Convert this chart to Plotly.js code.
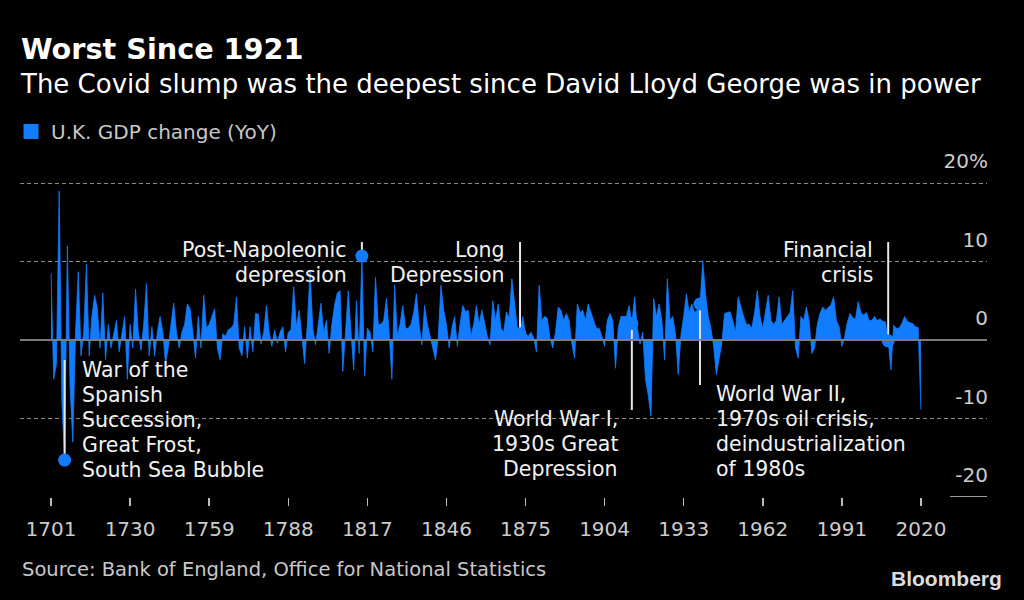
<!DOCTYPE html>
<html>
<head>
<meta charset="utf-8">
<script src="https://cdn.plot.ly/plotly-3.0.1.min.js"></script>
<style>
html,body{margin:0;padding:0;background:#000;}
#chart{width:1024px;height:600px;}
</style>
</head>
<body>
<div id="chart"></div>
<script>
// ---------------- DATA ----------------
const startYear = 1701;
// U.K. GDP change, year on year (%), 1701..2020
const gdpChange = [
  8.5, -5, -3, 19, -8, -15.3, 12, -6, -13, 1,
  8.7, -2, 1, 9.7, -2, 3, 5.7, 4, -1, 6,
  -2.5, 2, -1, 1, 2.5, -1.5, 1, 3, -5, 2,
  -1, 6.5, 1, -1.3, 2, 7.2, -2, 1.7, -2, 1,
  3, 1, -3, -1, 2, 4.7, 1, -1, 1, 2,
  4.6, 4, 1, -2.3, 3, -1, 5.7, 1.5, 2, 3,
  4, -1, -2.5, 0.8, 0.5, 1.3, 1.5, 2, 5.5, -1,
  -2, 1.7, -2.3, 1.7, -1.5, 3.4, 3.3, -0.5, 1, 4.4,
  1, -0.8, 1.3, -0.4, 1, 1.7, -1.5, 1, 1.3, 6.8,
  1.7, 3.8, 0, -3, 2, 8.9, 1.5, -0.6, 2, 4.7,
  1, 2.5, -1.7, 2, 4.5, 6, 6.3, -4, 1, 6.3,
  1, -3.8, 5, -1.7, 10.7, -4.6, 1.5, 1, -1.5, 8,
  2, 2, 2.5, 5.3, 1, -5, 7, 0.6, 2, 4.4,
  1.5, 1.5, 2, 3.5, 5.9, 2, -0.6, 4.4, 2, 0.4,
  -1, -2.5, 0.4, 7, 3.8, 2, -1, 1.5, 3, -0.8,
  2, 4.4, 3.6, 3.8, 0.5, 2, 4.4, 2, 3.8, 2,
  0.5, -0.6, 5, 2.5, 4.6, 1.5, 1, 3.6, 2.8, 7.8,
  4.2, 1.5, 0.8, 3, 0.8, 0.5, 1, 0.3, -1.5, 7,
  2.5, 3, 2.8, 0.2, -1, 1, 4.2, 3.8, 2.5, 3.4,
  2.5, -0.5, -2.3, 4.6, 3.5, 3.8, 2.5, 4.6, 3.5, 2.5,
  1.5, 1.5, 0.5, -0.8, 2.5, 3.4, 2.5, -3.6, 1.5, 3,
  3, 3, 4.4, 2.1, 5.5, 1.5, -0.5, 1, -5, -7,
  -9.7, 5.3, 3, 4.6, 2.5, -2.5, 7.8, 2.5, 3, 0.8,
  -4.4, 0.6, 3, 5.9, 3.5, 4.6, 3.5, 3.8, 4.6, 10.1,
  5.9, 3, 1.5, -0.8, -4.4, -2.1, -0.4, 3.4, 3.5, 3.6,
  2.5, 1, 5.5, 4.2, 3, 2, 2, 1.5, 3.5, 6.3,
  3, 1.5, 3.8, 5.7, 2.5, 2, 2.5, 5.5, 2, 2.5,
  3, 3.5, 6.3, -1, -2.3, 3, 2.5, 4.2, 2.5, -1.7,
  -1, 2, 3.4, 4.2, 3.8, 4.2, 4.5, 5.5, 2.5, 1.7,
  -0.8, 0.4, 2.2, 3.4, 2.8, 2.7, 4.9, 3.5, 3.2, 3.5,
  2.5, 2.5, 3, 2.5, 2.7, 2.4, 2.3, -0.1, -3.8, 1.9,
  1.5, 1.5, 2.1, 3, 2.4, 2.2, 2.1, 1.7, 1.6, -8.9
];
const years = gdpChange.map((_, i) => startYear + i);

const xTickYears = [1701, 1730, 1759, 1788, 1817, 1846, 1875, 1904, 1933, 1962, 1991, 2020];
const yTickValues = [-20, -10, 0, 10, 20];
const yTickLabels = ['-20', '-10', '0', '10', '20%'];
const yGridValues = [-10, 10, 20];

const eventYears = [1706, 1815, 1873, 1914, 1939, 2008];
const eventLabels = [
  ['War of the', 'Spanish', 'Succession,', 'Great Frost,', 'South Sea Bubble'],
  ['Post-Napoleonic', 'depression'],
  ['Long', 'Depression'],
  ['World War I,', '1930s Great', 'Depression'],
  ['World War II,', '1970s oil crisis,', 'deindustrialization', 'of 1980s'],
  ['Financial', 'crisis']
];

const titleText = 'Worst Since 1921';
const subtitleText = 'The Covid slump was the deepest since David Lloyd George was in power';
const seriesName = 'U.K. GDP change (YoY)';
const sourceText = 'Source: Bank of England, Office for National Statistics';
const brandText = 'Bloomberg';

// ---------------- LAYOUT HELPERS ----------------
const W = 1024, H = 600;
const M = {l: 20, r: 37, t: 180, b: 103, autoexpand: false};
const PW = W - M.l - M.r, PH = H - M.t - M.b;
const YR = [-20, 20.4];
const px2paperX = px => (px - M.l) / PW;
const py2paperY = py => (H - M.b - py) / PH;
const py2data = py => YR[1] - (py - M.t) * (YR[1] - YR[0]) / PH;
const PX_PER_YEAR = 2.727;
const XR = [startYear - 31 / PX_PER_YEAR, startYear - 31 / PX_PER_YEAR + PW / PX_PER_YEAR];

const FONT = 'DejaVu Sans, Verdana, sans-serif';
const BLUE = 'rgb(18,124,255)';

// label placement for each event (pixel layout)
const eventPlacement = [
  {align: 'left',  textX: 80,  firstY: 370, lineEndPy: 360},
  {align: 'right', textX: 349, firstY: 250, lineEndPy: 242},
  {align: 'right', textX: 507, firstY: 250, lineEndPy: 242},
  {align: 'right', textX: 620, firstY: 419, lineEndPy: 410},
  {align: 'left',  textX: 714, firstY: 394, lineEndPy: 385},
  {align: 'right', textX: 875, firstY: 250, lineEndPy: 242}
];
const LINE_GAP = 25;

const valueAt = yr => gdpChange[yr - startYear];

// ---------------- TRACES ----------------
const area = {
  type: 'scatter', mode: 'lines', x: years, y: gdpChange,
  fill: 'tozeroy', fillcolor: BLUE,
  line: {color: BLUE, width: 0.8},
  showlegend: false, hoverinfo: 'skip'
};

const lx = [], ly = [];
eventYears.forEach((yr, i) => {
  lx.push(yr, yr, null);
  ly.push(valueAt(yr), py2data(eventPlacement[i].lineEndPy), null);
});
const leaderLines = {
  type: 'scatter', mode: 'lines', x: lx, y: ly,
  line: {color: '#e6e6e6', width: 2}, showlegend: false, hoverinfo: 'skip'
};

const dots = {
  type: 'scatter', mode: 'markers', x: eventYears, y: eventYears.map(valueAt),
  marker: {color: BLUE, size: 13, line: {width: 0}},
  showlegend: false, hoverinfo: 'skip', yaxis: 'y2', cliponaxis: false
};

const legendEntry = {
  type: 'scatter', mode: 'markers', x: [null], y: [null], name: seriesName,
  marker: {color: BLUE, symbol: 'square', size: 15, line: {width: 0}},
  showlegend: true, hoverinfo: 'skip'
};

// ---------------- ANNOTATIONS ----------------
const annotations = [];
annotations.push({
  text: subtitleText, xref: 'paper', yref: 'paper',
  x: px2paperX(18), y: py2paperY(84), xanchor: 'left', yanchor: 'middle',
  showarrow: false, font: {family: FONT, size: 26, color: '#ffffff'}
});
annotations.push({
  text: sourceText, xref: 'paper', yref: 'paper',
  x: px2paperX(20), y: py2paperY(569), xanchor: 'left', yanchor: 'middle',
  showarrow: false, font: {family: FONT, size: 19.5, color: '#c8c8c8'}
});
annotations.push({
  text: '<b>' + brandText + '</b>', xref: 'paper', yref: 'paper',
  x: px2paperX(1004), y: py2paperY(578), xanchor: 'right', yanchor: 'middle',
  showarrow: false, font: {family: 'Liberation Sans, Arial, sans-serif', size: 21, color: '#dcdcdc'}
});
eventLabels.forEach((lines, i) => {
  const p = eventPlacement[i];
  lines.forEach((t, j) => {
    annotations.push({
      text: t, xref: 'paper', yref: 'paper',
      x: px2paperX(p.textX), y: py2paperY(p.firstY + j * LINE_GAP),
      xanchor: p.align, yanchor: 'middle', align: p.align,
      showarrow: false, font: {family: FONT, size: 20.5, color: '#f2f2f2'}
    });
  });
});

// ---------------- LAYOUT ----------------
const layout = {
  width: W, height: H,
  paper_bgcolor: '#000', plot_bgcolor: '#000',
  margin: M,
  font: {family: FONT, color: '#cccccc'},
  title: {
    text: '<b>' + titleText + '</b>',
    font: {family: FONT, size: 28.7, color: '#ffffff'},
    xref: 'container', x: 21 / W, xanchor: 'left',
    yref: 'container', y: 1 - 39 / H, yanchor: 'top'
  },
  showlegend: true,
  legend: {
    x: px2paperX(11), y: py2paperY(112), xanchor: 'left', yanchor: 'top',
    bgcolor: 'rgba(0,0,0,0)', font: {family: FONT, size: 20, color: '#c8c8c8'},
    itemwidth: 30, orientation: 'h'
  },
  xaxis: {
    range: XR,
    tickmode: 'array', tickvals: xTickYears, ticktext: xTickYears.map(String),
    ticks: 'outside', ticklen: 8, tickwidth: 1.5, tickcolor: '#bbbbbb',
    tickfont: {family: FONT, size: 20, color: '#cccccc'},
    ticklabelstandoff: 6,
    showgrid: false, zeroline: false, showline: false, fixedrange: true
  },
  yaxis: {
    range: YR, tickmode: 'array', tickvals: yGridValues,
    showticklabels: false, ticks: '',
    showgrid: true, gridcolor: '#8a8a8a', gridwidth: 1.2, griddash: '4px,3px',
    zeroline: true, zerolinecolor: '#7c7c7c', zerolinewidth: 1.5,
    zerolinelayer: 'above traces',
    showline: false, fixedrange: true
  },
  yaxis2: {
    overlaying: 'y', side: 'right', range: YR,
    tickmode: 'array', tickvals: yTickValues, ticktext: yTickLabels,
    ticklabelposition: 'inside top', ticklabeloverflow: 'allow',
    ticklabelshift: -8, ticklabelstandoff: -4,
    ticks: '', showgrid: false, zeroline: false, showline: false,
    tickfont: {family: FONT, size: 20, color: '#cccccc'}, fixedrange: true
  },
  shapes: [{
    type: 'line', xref: 'paper', yref: 'y',
    x0: px2paperX(950), x1: px2paperX(987), y0: -20, y1: -20,
    line: {color: '#cccccc', width: 1.5}
  }],
  annotations: annotations,
  hovermode: false
};

Plotly.newPlot('chart', [area, leaderLines, dots, legendEntry], layout, {displayModeBar: false, staticPlot: true});
</script>
</body>
</html>
